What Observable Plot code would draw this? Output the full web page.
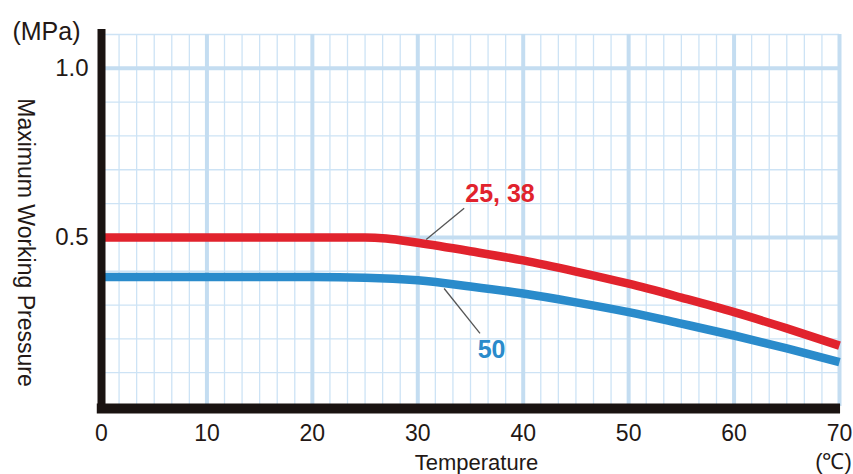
<!DOCTYPE html>
<html><head><meta charset="utf-8">
<script src="https://cdn.jsdelivr.net/npm/d3@7"></script>
<script src="https://cdn.jsdelivr.net/npm/@observablehq/plot@0.6"></script>
<style>body{margin:0;background:#fff} #chart svg{display:block}</style>
</head><body><div id="chart"></div>
<script>
// ---- data ----
const tempsA = [0, 10, 20, 25, 27, 30, 35, 40, 45, 50, 55, 60, 65, 70];
const pressureA = [0.5, 0.5, 0.5, 0.5, 0.497, 0.484, 0.459, 0.432, 0.399, 0.363, 0.322, 0.279, 0.231, 0.18]; // 25, 38
const tempsB = [0, 10, 20, 25, 30, 35, 40, 45, 50, 55, 60, 65, 70];
const pressureB = [0.383, 0.383, 0.383, 0.381, 0.373, 0.355, 0.334, 0.308, 0.279, 0.245, 0.21, 0.172, 0.131]; // 50
const seriesNames = ["25, 38", "50"];
const seriesColors = ["#e1232d", "#2a8bcb"];
const labelT = [37.8, 37.0];
const labelP = [0.604, 0.142];
const leaderT1 = [34.4, 32.5], leaderP1 = [0.586, 0.349];
const leaderT2 = [30.8, 35.9], leaderP2 = [0.494, 0.216];
const xTicks = [0, 10, 20, 30, 40, 50, 60, 70];
const yTicks = [0.5, 1.0];
const xMajor = [10, 20, 30, 40, 50, 60, 70];
const yMajor = [0.5, 1.0];
const xMinorStep = 10 / 6;
const yMinor = [0.1, 0.2, 0.3, 0.4, 0.6, 0.7, 0.8, 0.9, 1.1];

const xMinor = d3.range(0, 70.001, xMinorStep).filter(v => Math.abs(v / 10 - Math.round(v / 10)) > 1e-6);
const dataA = tempsA.map((t, i) => ({t, p: pressureA[i]}));
const dataB = tempsB.map((t, i) => ({t, p: pressureB[i]}));
const labels = seriesNames.map((name, i) => ({name, t: labelT[i], p: labelP[i], c: seriesColors[i]}));
const leaders = seriesNames.map((name, i) => ({x1: leaderT1[i], y1: leaderP1[i], x2: leaderT2[i], y2: leaderP2[i]}));

const ink = "#231815";
const font = "'Liberation Sans', Arial, Helvetica, sans-serif";

const chart = Plot.plot({
  width: 853, height: 474,
  marginLeft: 101, marginRight: 14, marginTop: 34, marginBottom: 68,
  style: {fontFamily: font, background: "#fff", overflow: "visible", color: ink},
  x: {domain: [0, 70]},
  y: {domain: [0, 1.1]},
  marks: [
    Plot.ruleX(xMinor, {y1: 0, y2: 1.1, stroke: "#cde3f5", strokeWidth: 1.3}),
    Plot.ruleY(yMinor, {x1: 0, x2: 70, stroke: "#cde3f5", strokeWidth: 1.3}),
    Plot.ruleX(xMajor, {y1: 0, y2: 1.1, stroke: "#c4ddf1", strokeWidth: 4}),
    Plot.ruleY(yMajor, {x1: 0, x2: 70, stroke: "#c4ddf1", strokeWidth: 4}),
    Plot.line(dataB, {x: "t", y: "p", stroke: seriesColors[1], strokeWidth: 8.5, curve: "monotone-x", strokeLinecap: "butt"}),
    Plot.line(dataA, {x: "t", y: "p", stroke: seriesColors[0], strokeWidth: 8.5, curve: "monotone-x", strokeLinecap: "butt"}),
    Plot.link(leaders, {x1: "x1", y1: "y1", x2: "x2", y2: "y2", stroke: "#555", strokeWidth: 1.3}),
    Plot.text(labels, {x: "t", y: "p", text: "name", fill: "c", fontSize: 25, fontWeight: "bold", lineAnchor: "bottom", textAnchor: "middle"}),
    // axis bars
    Plot.ruleX([0], {y1: -0.021, y2: 1.115, stroke: "#1a1311", strokeWidth: 8}),
    Plot.ruleY([-0.006], {x1: -0.4, x2: 70.1, stroke: "#1a1311", strokeWidth: 10}),
    Plot.axisX(xTicks, {tickSize: 0, tickPadding: 18, fontSize: 23, fill: ink, label: null}),
    Plot.axisY(yTicks, {tickSize: 0, tickPadding: 13, fontSize: 24, fill: ink, tickFormat: d3.format(".1f"), label: null}),
    Plot.text(["(MPa)"], {frameAnchor: "top-left", dx: -55, dy: -3, text: d => d, fontSize: 25, textAnchor: "middle", lineAnchor: "middle", fill: ink}),
    Plot.text(["Maximum Working Pressure"], {frameAnchor: "left", dx: -76, dy: 22, rotate: 90, text: d => d, fontSize: 23, textAnchor: "middle", lineAnchor: "middle", fill: ink}),
    Plot.text(["Temperature"], {frameAnchor: "bottom", dx: 6, dy: 56, text: d => d, fontSize: 22, textAnchor: "middle", lineAnchor: "middle", fill: ink}),
    Plot.text(["(℃)"], {frameAnchor: "bottom-right", dx: -6, dy: 55, text: d => d, fontSize: 22, textAnchor: "middle", lineAnchor: "middle", fill: ink})
  ]
});
document.getElementById("chart").append(chart);
</script>
</body></html>
